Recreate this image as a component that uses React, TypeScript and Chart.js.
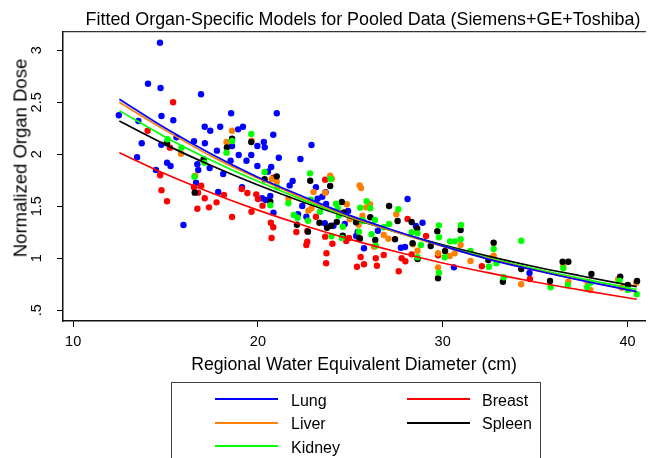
import React, { useEffect, useRef } from "react";
import { Chart, registerables } from "chart.js";

Chart.register(...registerables);

const FONT = '"Liberation Sans", Arial, Helvetica, sans-serif';

const chartTitle = "Fitted Organ-Specific Models for Pooled Data (Siemens+GE+Toshiba)";
const xAxisTitle = "Regional Water Equivalent Diameter (cm)";
const yAxisTitle = "Normalized Organ Dose";

const xTickValues = [10, 20, 30, 40];
const yTickValues = [0.5, 1, 1.5, 2, 2.5, 3];
const yTickLabels = [".5", "1", "1.5", "2", "2.5", "3"];

const organNames = ["Lung", "Liver", "Kidney", "Breast", "Spleen"];
const organColors = ["#0000ff", "#ff7f00", "#00ff00", "#ff0000", "#000000"];

const lungPoints = [
  [14.7, 3.073], [14.05, 2.679], [14.73, 2.637], [16.92, 2.577], [12.47, 2.375], [14.78, 2.368],
  [15.42, 2.327], [18.55, 2.394], [13.53, 2.32], [17.12, 2.265], [17.42, 2.227], [17.96, 2.265],
  [18.93, 2.24], [19.19, 2.265], [15.59, 2.163], [16.54, 2.125], [13.71, 2.106], [14.77, 2.092],
  [17.13, 2.106], [18.6, 2.08], [19.97, 2.08], [17.78, 2.035], [18.96, 1.993], [19.64, 1.993],
  [13.46, 1.971], [19.38, 1.938], [15.08, 1.919], [15.27, 1.887], [16.72, 1.904], [16.77, 1.849],
  [18.52, 1.938], [17.39, 1.868], [19.97, 1.887], [18.12, 1.81], [14.48, 1.849], [16.65, 1.727],
  [15.97, 1.32], [21.02, 2.394], [20.32, 2.118], [20.37, 2.067], [20.83, 2.188], [21.13, 1.967],
  [22.9, 2.089], [20.72, 1.878], [20.54, 1.833], [22.3, 1.955], [17.85, 1.637], [19.14, 1.683],
  [20.84, 1.438], [20.22, 1.577], [20.43, 1.56], [20.67, 1.6], [21.88, 1.743], [21.72, 1.701],
  [23.14, 1.683], [23.48, 1.592], [23.66, 1.635], [23.23, 1.573], [22.4, 1.503], [22.17, 1.423],
  [22.62, 1.4], [23.69, 1.522], [23.62, 1.337], [24.7, 1.33], [24.09, 1.313], [25.4, 1.253],
  [25.74, 1.096], [25.32, 1.214], [24.88, 1.455], [28.1, 1.57], [28.91, 1.342], [27.74, 1.102],
  [27.96, 1.109], [30.61, 0.913], [34.7, 0.859], [26.49, 1.265], [28.55, 1.31],
];

const liverPoints = [
  [18.6, 2.227], [18.3, 2.118], [19.66, 2.13], [15.84, 2.006], [16.6, 1.794], [20.75, 1.76],
  [21.02, 1.737], [21.65, 1.57], [22.73, 1.458], [22.9, 1.48], [23.01, 1.637], [23.64, 1.631],
  [23.91, 1.794], [24.0, 1.765], [24.81, 1.519], [25.5, 1.7], [25.58, 1.676], [25.86, 1.49],
  [24.52, 1.433], [24.97, 1.375], [26.06, 1.519], [25.66, 1.41], [25.45, 1.323], [26.29, 1.112],
  [26.81, 1.224], [27.06, 1.188], [27.49, 1.423], [28.39, 1.135], [28.64, 1.073], [29.75, 0.913],
  [29.75, 1.048], [30.38, 1.022], [30.65, 1.048], [30.97, 1.128], [31.51, 0.974], [32.76, 1.025],
  [32.58, 1.0], [34.25, 0.75], [36.8, 0.775], [36.53, 0.929], [37.83, 0.775], [37.99, 0.695],
  [39.5, 0.798], [39.68, 0.717], [40.47, 0.765],
];

const kidneyPoints = [
  [19.64, 2.195], [18.6, 2.128], [15.11, 2.144], [15.86, 2.064], [18.3, 2.016], [17.1, 1.919],
  [16.56, 1.785], [20.36, 1.83], [21.04, 1.683], [20.67, 1.51], [21.65, 1.529], [21.94, 1.416],
  [22.14, 1.39], [22.71, 1.361], [22.82, 1.817], [23.93, 1.762], [22.87, 1.563], [23.36, 1.448],
  [24.23, 1.525], [24.32, 1.484], [24.38, 1.41], [24.59, 1.304], [23.98, 1.212], [24.54, 1.195],
  [25.54, 1.487], [25.88, 1.548], [26.08, 1.481], [25.63, 1.368], [25.47, 1.256], [26.15, 1.231],
  [26.33, 1.368], [26.38, 1.121], [25.7, 1.359], [27.6, 1.471], [27.1, 1.33], [26.81, 1.298],
  [28.33, 1.25], [28.64, 1.24], [28.82, 1.128], [28.64, 1.01], [29.8, 1.317], [29.8, 1.202],
  [29.8, 0.862], [30.11, 1.01], [30.4, 1.163], [30.65, 1.163], [30.99, 1.32], [30.97, 1.183],
  [31.51, 1.07], [32.5, 0.919], [32.76, 1.09], [32.9, 0.952], [33.3, 0.817], [34.25, 1.169],
  [36.53, 0.904], [35.84, 0.721], [36.77, 0.743], [37.82, 0.721], [38.01, 0.765], [39.57, 0.785],
  [40.02, 0.695], [40.5, 0.654],
];

const breastPoints = [
  [15.41, 2.5], [14.03, 2.227], [14.71, 1.798], [15.24, 2.064], [14.78, 1.654], [15.08, 1.548],
  [16.54, 1.683], [16.93, 1.698], [16.76, 1.631], [17.12, 1.577], [16.72, 1.477], [17.35, 1.49],
  [17.76, 1.538], [18.16, 1.609], [18.6, 1.397], [19.12, 1.666], [19.43, 1.628], [19.91, 1.615],
  [20.0, 1.57], [20.25, 1.506], [19.65, 1.448], [20.83, 1.775], [20.7, 1.342], [20.83, 1.298],
  [20.74, 1.195], [22.08, 1.253], [22.67, 1.263], [22.62, 1.128], [22.67, 1.16], [23.14, 1.4],
  [23.64, 1.756], [23.64, 1.208], [23.71, 1.048], [23.69, 0.952], [24.03, 1.14], [24.78, 1.166],
  [24.93, 1.195], [25.36, 0.919], [25.56, 1.013], [25.74, 0.942], [26.38, 1.0], [26.44, 0.929],
  [26.81, 1.032], [27.62, 0.875], [27.78, 1.0], [27.98, 0.971], [28.1, 1.378], [28.32, 1.038],
  [29.1, 1.214], [29.75, 1.029], [32.12, 0.923], [34.72, 0.801],
];

const spleenPoints = [
  [18.6, 2.15], [18.32, 2.067], [19.64, 2.118], [15.08, 2.106], [17.06, 1.952], [16.58, 1.631],
  [20.36, 1.76], [21.02, 1.788], [20.67, 1.544], [22.11, 1.323], [22.71, 1.256], [22.83, 1.746],
  [23.91, 1.695], [23.33, 1.342], [23.74, 1.294], [23.95, 1.313], [24.27, 1.349], [24.54, 1.541],
  [24.59, 1.218], [25.5, 1.192], [26.08, 1.394], [26.35, 1.176], [24.66, 1.442], [25.31, 1.346],
  [25.52, 1.188], [27.1, 1.503], [27.42, 1.183], [27.56, 1.359], [28.32, 1.349], [28.62, 1.288],
  [28.64, 0.993], [28.37, 1.144], [29.35, 1.118], [29.71, 1.26], [29.75, 0.808], [30.13, 1.07],
  [30.97, 1.272], [32.47, 0.984], [32.76, 1.15], [33.26, 0.775], [34.25, 0.897], [35.81, 0.782],
  [36.49, 0.967], [36.8, 0.967], [38.05, 0.849], [39.61, 0.823], [40.02, 0.743], [40.52, 0.782],
];

// fitted curves
const fitX = [12.5, 15, 17.5, 20, 22.5, 25, 27.5, 30, 32.5, 35, 37.5, 40.5];
const lungFit = [2.53, 2.25, 2.0, 1.78, 1.59, 1.41, 1.26, 1.12, 0.99, 0.885, 0.787, 0.68];
const liverFit = [2.5, 2.23, 1.98, 1.77, 1.575, 1.4, 1.25, 1.115, 0.994, 0.886, 0.789, 0.68];
const kidneyFit = [2.42, 2.165, 1.94, 1.74, 1.557, 1.395, 1.25, 1.12, 1.003, 0.899, 0.805, 0.7];
const breastFit = [2.015, 1.81, 1.628, 1.463, 1.315, 1.182, 1.063, 0.955, 0.859, 0.772, 0.694, 0.606];
const spleenFit = [2.32, 2.093, 1.889, 1.704, 1.537, 1.387, 1.252, 1.129, 1.019, 0.919, 0.83, 0.727];

const allPoints = [lungPoints, liverPoints, kidneyPoints, breastPoints, spleenPoints];
const allFits = [lungFit, liverFit, kidneyFit, breastFit, spleenFit];
// drawing order of the scatter layers (lower = on top)
const scatterOrder = [6, 4, 2, 5, 3];

export default function App() {
  const ref = useRef<HTMLCanvasElement>(null);

  useEffect(() => {
    const canvas = ref.current;
    if (!canvas) return;
    const lineSets = allFits.map((ys, i) => ({
      label: organNames[i] + " fit",
      data: fitX.map((x, j) => ({ x, y: ys[j] })),
      showLine: true,
      borderColor: organColors[i],
      backgroundColor: organColors[i],
      borderWidth: 1.7,
      pointRadius: 0,
      cubicInterpolationMode: "monotone" as const,
      order: 0,
      xAxisID: "x",
      yAxisID: "y",
    }));
    const pointSets = allPoints.map((pts, i) => ({
      label: organNames[i],
      data: pts.map(([x, y]) => ({ x, y })),
      showLine: false,
      backgroundColor: organColors[i],
      borderColor: organColors[i],
      borderWidth: 0,
      pointRadius: 3.2,
      order: scatterOrder[i],
      xAxisID: "x",
      yAxisID: "y",
    }));

    const chart = new Chart(canvas, {
      type: "scatter",
      data: { datasets: [...lineSets, ...pointSets] as any },
      options: {
        animation: false,
        responsive: false,
        devicePixelRatio: 1,
        events: [],
        layout: { padding: 0 },
        plugins: {
          legend: { display: false },
          tooltip: { enabled: false },
          title: { display: false },
        },
        scales: {
          x: {
            type: "linear",
            position: "bottom",
            min: 9.45,
            max: 40.95,
            afterBuildTicks: (s: any) => {
              s.ticks = xTickValues.map((v) => ({ value: v }));
            },
            afterFit: (s: any) => {
              s.height = 137;
            },
            ticks: {
              font: { family: FONT, size: 14.5 },
              color: "#000",
              padding: 6.5,
              maxRotation: 0,
              autoSkip: false,
            },
            grid: {
              display: true,
              drawOnChartArea: false,
              drawTicks: true,
              tickLength: 6,
              color: "#000",
              lineWidth: 1,
            },
            border: { display: true, color: "#111", width: 1.5 },
            title: {
              display: true,
              text: xAxisTitle,
              font: { family: FONT, size: 17.7 },
              color: "#000",
              padding: { top: 0, bottom: 82 },
            },
          },
          xTop: {
            type: "linear",
            position: "top",
            min: 0,
            max: 1,
            ticks: { display: false },
            grid: { display: false, drawTicks: false },
            border: { display: true, color: "#333", width: 1.2 },
            afterFit: (s: any) => {
              s.height = 32;
            },
          },
          y: {
            type: "linear",
            position: "left",
            min: 0.397,
            max: 3.176,
            afterBuildTicks: (s: any) => {
              s.ticks = yTickValues.map((v) => ({ value: v }));
            },
            afterFit: (s: any) => {
              s.width = 63;
            },
            ticks: {
              callback: (_v: any, i: number) => yTickLabels[i],
              font: { family: FONT, size: 14.5 },
              color: "#000",
              padding: 9.5,
              minRotation: 90,
              maxRotation: 90,
              crossAlign: "center",
              autoSkip: false,
            },
            grid: {
              display: true,
              drawOnChartArea: false,
              drawTicks: true,
              tickLength: 6,
              color: "#000",
              lineWidth: 1,
            },
            border: { display: true, color: "#111", width: 1.5 },
          },
        },
      } as any,
    });
    return () => chart.destroy();
  }, []);

  const legendRows = [
    { name: organNames[0], color: organColors[0], col: 0, row: 0 },
    { name: organNames[1], color: organColors[1], col: 0, row: 1 },
    { name: organNames[2], color: organColors[2], col: 0, row: 2 },
    { name: organNames[3], color: organColors[3], col: 1, row: 0 },
    { name: organNames[4], color: organColors[4], col: 1, row: 1 },
  ];
  const rowY = [399, 422.5, 446];
  const lineX = [215, 407];
  const textX = [291, 482];

  return (
    <div
      style={{
        position: "absolute",
        left: 0,
        top: 0,
        width: 649,
        height: 458,
        overflow: "hidden",
        background: "#fff",
        fontFamily: FONT,
        color: "#000",
      }}
    >
      <canvas
        ref={ref}
        width={649}
        height={458}
        style={{ position: "absolute", left: 0, top: 0, width: 649, height: 458, display: "block" }}
      />
      <div
        style={{
          position: "absolute",
          left: 63,
          width: 600,
          top: 9,
          textAlign: "center",
          fontSize: 17.9,
          lineHeight: "20px",
          whiteSpace: "nowrap",
        }}
      >
        {chartTitle}
      </div>
      <div
        style={{
          position: "absolute",
          left: 20,
          top: 158,
          transform: "translate(-50%, -50%) rotate(-90deg)",
          fontSize: 18.5,
          lineHeight: "21px",
          whiteSpace: "nowrap",
        }}
      >
        {yAxisTitle}
      </div>
      <div
        style={{
          position: "absolute",
          left: 171,
          top: 382,
          width: 370,
          height: 90,
          border: "1px solid #404040",
          boxSizing: "border-box",
        }}
      />
      {legendRows.map((r) => (
        <React.Fragment key={r.name}>
          <div
            style={{
              position: "absolute",
              left: lineX[r.col],
              top: rowY[r.row] - 1,
              width: 63,
              height: 2,
              background: r.color,
            }}
          />
          <div
            style={{
              position: "absolute",
              left: textX[r.col],
              top: rowY[r.row] - 7.5,
              fontSize: 16,
              lineHeight: "18px",
              whiteSpace: "nowrap",
            }}
          >
            {r.name}
          </div>
        </React.Fragment>
      ))}
    </div>
  );
}
